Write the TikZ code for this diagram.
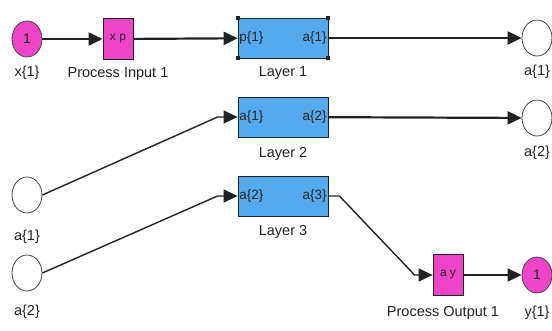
\documentclass[tikz,border=0pt]{standalone}
\usepackage{fontspec}
\setmainfont{Liberation Sans}
\usetikzlibrary{positioning,calc,shapes.geometric,arrows.meta}
\definecolor{Magenta}{HTML}{EE44C8}
\definecolor{Sky}{HTML}{55AAEE}
\definecolor{Wire}{HTML}{222222}
\tikzset{
  port node/.style={ellipse,draw=Wire!85,thick,fill=white,minimum width=30pt,
    minimum height=36pt,inner sep=0pt},
  io node/.style={port node,fill=Magenta,font=\fontsize{14}{15}\selectfont,text=Wire},
  process node/.style={draw=Wire,thick,fill=Magenta,minimum width=30pt,
    minimum height=41pt,inner sep=0pt,font=\fontsize{12}{13}\selectfont,text=Wire},
  layer node/.style={draw=Wire,thick,fill=Sky,minimum width=90pt,
    minimum height=40pt,inner sep=0pt},
  port text/.style={font=\fontsize{13.5}{14}\selectfont,text=Wire,inner sep=1.5pt},
  block label/.style={font=\fontsize{14.5}{15}\selectfont,text=Wire,inner sep=0pt},
  signal arrow/.style={-{Triangle[length=14pt,width=13pt]},line width=2.2pt,draw=Wire},
  signal line/.style={signal arrow,line width=1.4pt}
}

\begin{document}
\begin{tikzpicture}[x=1pt,y=-1pt,node distance=8pt]
  \useasboundingbox (0,0) rectangle (552,330);
  % blocks
  \node[io node] (x1) at (27,39) {1};
  \node[process node] (pin) at (118,39) {x p};
  \node[layer node] (lay1) at (283,38) {};
  \node[port node] (out1) at (537,38) {};
  \node[layer node] (lay2) at (283,117) {};
  \node[port node] (out2) at (537,118) {};
  \node[port node] (in1) at (27,195) {};
  \node[port node] (in2) at (27,273) {};
  \node[layer node] (lay3) at (283,196) {};
  \node[process node] (pout) at (448,275) {a y};
  \node[io node] (y1) at (537,275) {1};
  % ports of the layers
  \node[port text,anchor=west] (lay1 in) at (lay1.west) {p\{1\}};
  \node[port text,anchor=east] (lay1 out) at (lay1.east) {a\{1\}};
  \node[port text,anchor=west] (lay2 in) at (lay2.west) {a\{1\}};
  \node[port text,anchor=east] (lay2 out) at (lay2.east) {a\{2\}};
  \node[port text,anchor=west] (lay3 in) at (lay3.west) {a\{2\}};
  \node[port text,anchor=east] (lay3 out) at (lay3.east) {a\{3\}};
  \foreach \c in {north west,north east,south west,south east}
    \fill[Wire] ($(lay1.\c)+(-2,-2)$) rectangle ++(4,4);
  % labels
  \node[block label,below=of x1] (x1 label) {x\{1\}};
  \node[block label,below=7pt of pin] (pin label) {Process Input 1};
  \node[block label,below=of lay1] (lay1 label) {Layer 1};
  \node[block label,below=of out1] (out1 label) {a\{1\}};
  \node[block label,below=10pt of lay2] (lay2 label) {Layer 2};
  \node[block label,below=9pt of out2] (out2 label) {a\{2\}};
  \node[block label,below=9pt of lay3] (lay3 label) {Layer 3};
  \node[block label,below=16pt of in1] (in1 label) {a\{1\}};
  \node[block label,below=13pt of in2] (in2 label) {a\{2\}};
  \node[block label,below=10pt of pout,xshift=-5pt] (pout label) {Process Output 1};
  \node[block label,below=12pt of y1] (y1 label) {y\{1\}};
  % signals
  \draw[signal arrow] (x1) -- (pin);
  \draw[signal arrow] (pin) -- (lay1);
  \draw[signal arrow] (lay1) -- (out1);
  \draw[signal arrow] (lay2) -- (out2);
  \draw[signal line] (in1.east) -- ($(lay2.west)+(-20,0)$) -- (lay2.west);
  \draw[signal line] (in2.east) -- ($(lay3.west)+(-20,0)$) -- (lay3.west);
  \draw[signal line] (lay3.east) -- ++(11,0) -- ($(pout.west)+(-18,0)$) -- (pout.west);
  \draw[signal arrow,line width=1.7pt] (pout) -- (y1);
\end{tikzpicture}
\end{document}
